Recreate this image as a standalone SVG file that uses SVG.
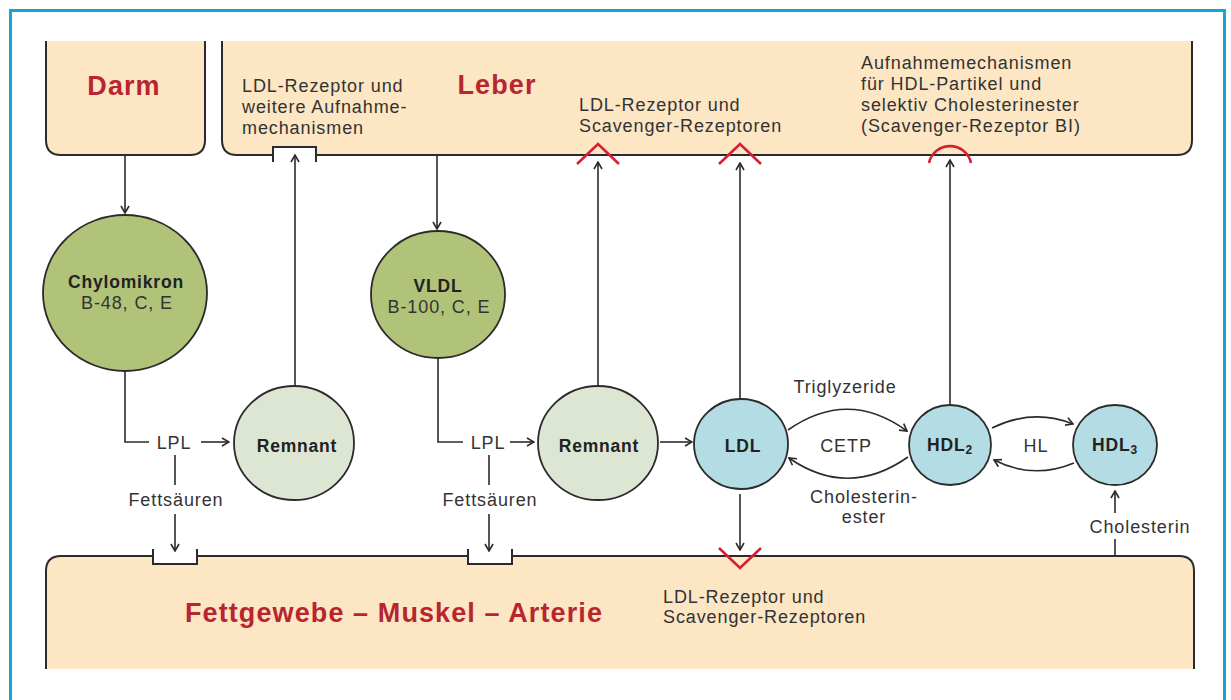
<svg xmlns="http://www.w3.org/2000/svg" width="1231" height="700" viewBox="0 0 1231 700">
<style>
.box{fill:#fce6c3;stroke:none}
.edge{fill:none;stroke:#2b2b2b;stroke-width:2}
.t{font-family:"Liberation Sans",Arial,sans-serif;font-size:18px;fill:#333;letter-spacing:0.9px}
.b{font-family:"Liberation Sans",Arial,sans-serif;font-size:17.5px;font-weight:bold;fill:#222;letter-spacing:0.8px}
.r{font-family:"Liberation Sans",Arial,sans-serif;font-size:27px;font-weight:bold;fill:#b8252f;letter-spacing:1.1px}
.c{stroke:#2b2b2b;stroke-width:1.8}
.ln{fill:none;stroke:#2b2b2b;stroke-width:1.6}
.rec{fill:none;stroke:#d81e34;stroke-width:2.6}
</style>
<defs>
<marker id="ah" viewBox="0 0 10 10" refX="9" refY="5" markerWidth="10" markerHeight="10" markerUnits="userSpaceOnUse" orient="auto">
<path d="M2,1 L9,5 L2,9" fill="none" stroke="#2b2b2b" stroke-width="1.6"/>
</marker>
</defs>
<rect x="0" y="0" width="1231" height="700" fill="#fff"/>
<rect x="10.5" y="10.5" width="1214" height="720" fill="none" stroke="#0fa6da" stroke-width="3"/>

<g id="darm">
<path class="box" d="M46,41 L46,140 Q46,155 61,155 L190,155 Q205,155 205,140 L205,41 Z"/>
<path class="edge" d="M46,41 L46,140 Q46,155 61,155 L190,155 Q205,155 205,140 L205,41"/>
<text class="r" x="124" y="95" text-anchor="middle">Darm</text>
</g>

<g id="leber">
<path class="box" d="M222,41 L222,140 Q222,155 237,155 L1177,155 Q1192,155 1192,140 L1192,41 Z"/>
<path class="edge" d="M222,41 L222,140 Q222,155 237,155 L1177,155 Q1192,155 1192,140 L1192,41"/>
<text class="r" x="497" y="94" text-anchor="middle">Leber</text>
<text class="t" x="242" y="92">LDL-Rezeptor und</text>
<text class="t" x="242" y="113">weitere Aufnahme-</text>
<text class="t" x="242" y="134">mechanismen</text>
<text class="t" x="579" y="111">LDL-Rezeptor und</text>
<text class="t" x="579" y="132">Scavenger-Rezeptoren</text>
<text class="t" x="861" y="69">Aufnahmemechanismen</text>
<text class="t" x="861" y="90">für HDL-Partikel und</text>
<text class="t" x="861" y="111">selektiv Cholesterinester</text>
<text class="t" x="861" y="132">(Scavenger-Rezeptor BI)</text>
<rect x="273" y="147" width="43" height="10" fill="#fff"/>
<path class="edge" d="M273,162 L273,147 L316,147 L316,162"/>
<path class="rec" d="M577,164 L598,144 L619,164"/>
<path class="rec" d="M719,164 L740,144 L761,164"/>
<path class="rec" d="M929,163 A21.5,21.5 0 0 1 971,163"/>
</g>

<g id="gewebe">
<path class="box" d="M46,669 L46,571 Q46,556 61,556 L1179,556 Q1194,556 1194,571 L1194,669 Z"/>
<path class="edge" d="M46,669 L46,571 Q46,556 61,556 L1179,556 Q1194,556 1194,571 L1194,669"/>
<rect x="153" y="554" width="44" height="10" fill="#fff"/>
<path class="edge" d="M153,549 L153,564 L197,564 L197,549"/>
<rect x="468" y="554" width="44" height="10" fill="#fff"/>
<path class="edge" d="M468,549 L468,564 L512,564 L512,549"/>
<path class="rec" d="M719,548 L740,568 L761,548"/>
<text class="r" x="394" y="622" text-anchor="middle">Fettgewebe – Muskel – Arterie</text>
<text class="t" x="663" y="603">LDL-Rezeptor und</text>
<text class="t" x="663" y="623">Scavenger-Rezeptoren</text>
</g>

<g id="chylomikron">
<ellipse cx="125" cy="293" rx="82" ry="78" fill="#b1c379" class="c"/>
<text class="b" x="126" y="288" text-anchor="middle">Chylomikron</text>
<text class="t" x="127" y="309" text-anchor="middle">B-48, C, E</text>
</g>

<g id="vldl">
<ellipse cx="438" cy="294.5" rx="67" ry="63.5" fill="#b1c379" class="c"/>
<text class="b" x="438" y="292" text-anchor="middle">VLDL</text>
<text class="t" x="439" y="313" text-anchor="middle">B-100, C, E</text>
</g>

<g id="remnant1">
<ellipse cx="294" cy="443" rx="60" ry="57" fill="#dce6d3" class="c"/>
<text class="b" x="297" y="452" text-anchor="middle">Remnant</text>
</g>

<g id="remnant2">
<ellipse cx="598" cy="443" rx="60" ry="57" fill="#dce6d3" class="c"/>
<text class="b" x="599" y="452" text-anchor="middle">Remnant</text>
</g>

<g id="ldl">
<ellipse cx="741" cy="444" rx="47" ry="45" fill="#b3dce4" class="c"/>
<text class="b" x="743" y="452" text-anchor="middle">LDL</text>
</g>

<g id="hdl2">
<ellipse cx="950" cy="445" rx="41" ry="40" fill="#b3dce4" class="c"/>
<text class="b" x="950" y="451" text-anchor="middle">HDL<tspan font-size="12" dy="3">2</tspan></text>
</g>

<g id="hdl3">
<ellipse cx="1115" cy="445" rx="42" ry="40" fill="#b3dce4" class="c"/>
<text class="b" x="1115" y="451" text-anchor="middle">HDL<tspan font-size="12" dy="3">3</tspan></text>
</g>

<g id="connectors">
<path class="ln" d="M125,155 L125,213" marker-end="url(#ah)"/>
<path class="ln" d="M437,155 L437,229" marker-end="url(#ah)"/>
<path class="ln" d="M125,371 L125,442 L149,442"/>
<text class="t" x="174" y="449" text-anchor="middle">LPL</text>
<path class="ln" d="M201,442 L229,442" marker-end="url(#ah)"/>
<path class="ln" d="M175,455 L175,485"/>
<text class="t" x="176" y="506" text-anchor="middle">Fettsäuren</text>
<path class="ln" d="M175,514 L175,551" marker-end="url(#ah)"/>
<path class="ln" d="M438,358 L438,442 L463,442"/>
<text class="t" x="488" y="449" text-anchor="middle">LPL</text>
<path class="ln" d="M510,442 L534,442" marker-end="url(#ah)"/>
<path class="ln" d="M489,455 L489,485"/>
<text class="t" x="490" y="506" text-anchor="middle">Fettsäuren</text>
<path class="ln" d="M489,514 L489,551" marker-end="url(#ah)"/>
<path class="ln" d="M295,386 L295,155" marker-end="url(#ah)"/>
<path class="ln" d="M598,386 L598,162" marker-end="url(#ah)"/>
<path class="ln" d="M660,442 L692,442" marker-end="url(#ah)"/>
<path class="ln" d="M740,399 L740,163" marker-end="url(#ah)"/>
<path class="ln" d="M740,494 L740,550" marker-end="url(#ah)"/>
<path class="ln" d="M950,405 L950,160" marker-end="url(#ah)"/>
<path class="ln" d="M788,430 Q848,388 907,431" marker-end="url(#ah)"/>
<path class="ln" d="M908,457 Q848,499 789,458" marker-end="url(#ah)"/>
<text class="t" x="845" y="393" text-anchor="middle">Triglyzeride</text>
<text class="t" x="846" y="452" text-anchor="middle">CETP</text>
<text class="t" x="864" y="503" text-anchor="middle">Cholesterin-</text>
<text class="t" x="864" y="523" text-anchor="middle">ester</text>
<path class="ln" d="M992,428 Q1033,408 1073,424" marker-end="url(#ah)"/>
<path class="ln" d="M1074,463 Q1033,480 994,460" marker-end="url(#ah)"/>
<text class="t" x="1036" y="452" text-anchor="middle">HL</text>
<path class="ln" d="M1115,513 L1115,491" marker-end="url(#ah)"/>
<text class="t" x="1140" y="533" text-anchor="middle">Cholesterin</text>
<path class="ln" d="M1115,539 L1115,556"/>
</g>
</svg>
